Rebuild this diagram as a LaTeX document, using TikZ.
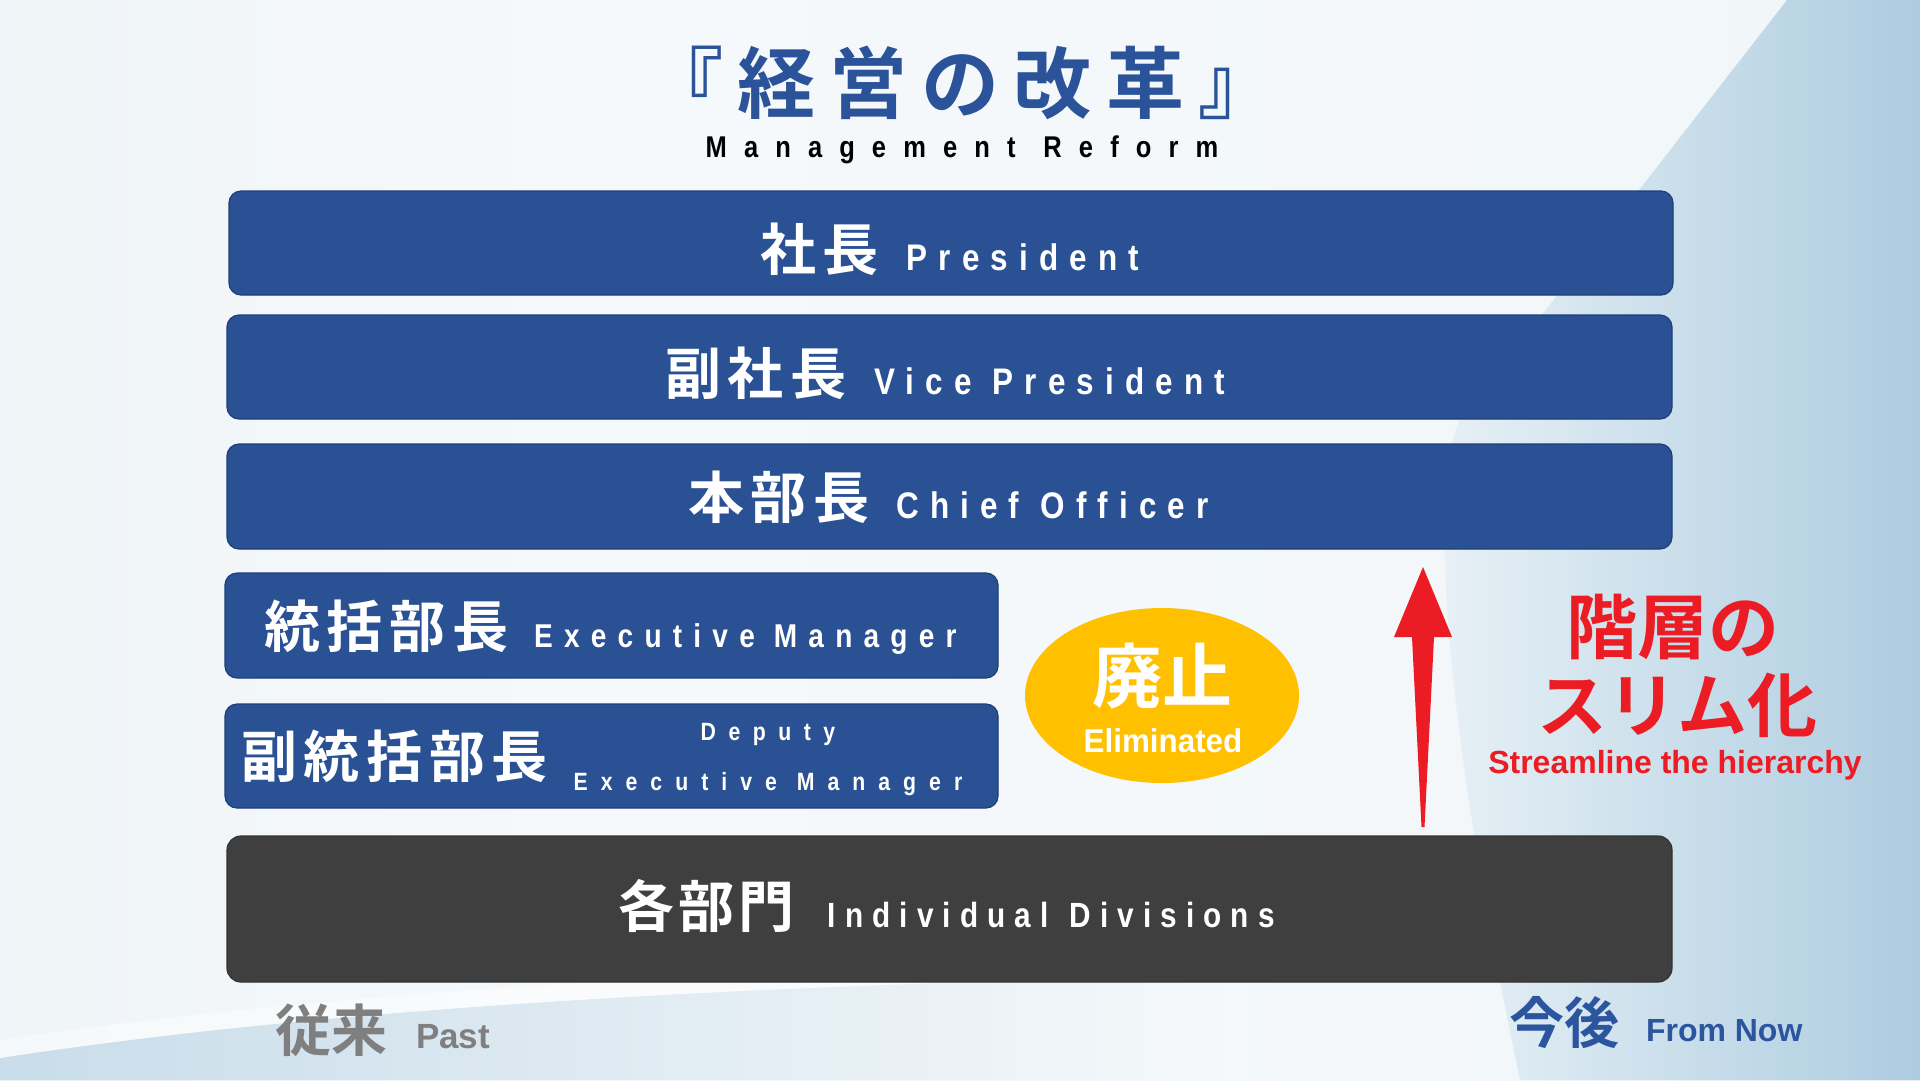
\documentclass[tikz,border=0pt]{standalone}
\usepackage{fontspec}
\setmainfont{Liberation Sans}
\newfontfamily\enf{Liberation Sans Bold}
\newfontfamily\jpf{Noto Sans CJK JP Bold}
\usetikzlibrary{shapes.geometric}
\definecolor{boxblue}{HTML}{2A5194}
\definecolor{boxedge}{HTML}{1E3E78}
\definecolor{divgray}{HTML}{3F3F3F}
\definecolor{titleblue}{HTML}{2B539A}
\definecolor{elimyellow}{HTML}{FFC000}
\definecolor{slimred}{HTML}{EC1C24}
\definecolor{pastgray}{HTML}{7F7F7F}
\definecolor{nowblue}{HTML}{2C55A0}
\definecolor{bgA}{HTML}{E4EDF3}
\definecolor{bgB}{HTML}{F6F9FB}
\definecolor{bgC}{HTML}{EDF4F8}
\definecolor{bgE}{HTML}{E8F1F6}
\definecolor{bgD}{HTML}{ADCCE0}
\pgfdeclarehorizontalshading{bgsh}{100bp}{color(0bp)=(bgA); color(40bp)=(bgB); color(100bp)=(bgC)}
% size, letterspace, stretch, text
\newcommand\EN[4]{{\fontsize{#1pt}{#1pt}\selectfont\enf\addfontfeature{LetterSpace=#2,FakeStretch=#3}#4}}
\newcommand\JPt[3]{{\fontsize{#1pt}{#1pt}\selectfont\jpf\addfontfeature{LetterSpace=#2}#3}}
\tikzset{
  bluebox/.style={rectangle, rounded corners=12pt, fill=boxblue, draw=boxedge, line width=1.2pt, inner sep=0pt},
  graybox/.style={rectangle, rounded corners=14pt, fill=divgray, draw=divgray!80!black, line width=1.2pt, inner sep=0pt},
  tl/.style={inner sep=0pt, outer sep=0pt, anchor=base west},
  tc/.style={inner sep=0pt, outer sep=0pt, anchor=base},
}
\begin{document}
\begin{tikzpicture}[x=1pt, y=-1pt]
\useasboundingbox (0,0) rectangle (1920,1080);
% background
\shade[shading=bgsh] (0,0) rectangle (1920,1080);
\shade[left color=bgE, right color=bgD] (1787,0) -- (1460,420) .. controls (1430,480) and (1440,700) .. (1520,1080) -- (1920,1080) -- (1920,0) -- cycle;
\shade[left color=bgD!50!bgA, right color=bgB] (0,1080) -- (0,1058) .. controls (300,1012) and (700,985) .. (1250,975) -- (1250,1080) -- cycle;
\fill[white, opacity=0.45] (0,1040) .. controls (300,995) and (700,968) .. (1250,962) -- (1250,975) .. controls (700,985) and (300,1012) .. (0,1058) -- cycle;

% title
\node[tc, text=titleblue] (title) at (961,112) {\JPt{78}{18}{『経営の改革』}};
\node[tc, text=black] (sub) at (962,157) {\EN{30}{57}{0.85}{Management}\hspace{28pt}\EN{30}{57}{0.85}{Reform}};

% boxes
\node[bluebox, minimum width=1444pt, minimum height=104pt] (pres) at (951,243) {};
\node[bluebox, minimum width=1445pt, minimum height=104pt] (vice) at (949.5,367) {};
\node[bluebox, minimum width=1445pt, minimum height=105pt] (chief) at (949.5,496.5) {};
\node[bluebox, minimum width=773pt, minimum height=105pt] (exec) at (611.5,625.5) {};
\node[bluebox, minimum width=773pt, minimum height=104pt] (dep) at (611.5,756) {};
\node[graybox, minimum width=1445pt, minimum height=146pt] (div) at (949.5,909) {};

% box texts
\node[tl, text=white] (presT) at (760,270) {\JPt{56}{12}{社長}\hspace{28pt}\EN{37}{30}{0.85}{President}};
\node[tl, text=white] (viceT) at (665,394) {\JPt{56}{12}{副社長}\hspace{28pt}\EN{37}{30}{0.85}{Vice}\hspace{21pt}\EN{37}{30}{0.85}{President}};
\node[tl, text=white] (chiefT) at (688,518) {\JPt{56}{12}{本部長}\hspace{27pt}\EN{37}{30}{0.85}{Chief}\hspace{21pt}\EN{37}{30}{0.85}{Officer}};
\node[tl, text=white] (execT) at (264,647) {\JPt{56}{12}{統括部長}\hspace{26pt}\EN{33}{34}{0.85}{Executive}\hspace{19pt}\EN{33}{34}{0.85}{Manager}};
\node[tl, text=white] (depJ) at (241,777) {\JPt{56}{12}{副統括部長}};
\node[tc, text=white] (depE1) at (768,740) {\EN{25}{50}{0.85}{Deputy}};
\node[tc, text=white] (depE2) at (768,790) {\EN{25}{52}{0.85}{Executive}\hspace{20pt}\EN{25}{52}{0.85}{Manager}};
\node[tl, text=white] (divT) at (618,927) {\JPt{56}{8}{各部門}\hspace{33pt}\EN{35}{26}{0.85}{Individual}\hspace{21pt}\EN{35}{26}{0.85}{Divisions}};

% eliminated
\node[ellipse, fill=elimyellow, minimum width=274pt, minimum height=175pt, inner sep=0pt] (elim) at (1162,695.5) {};
\node[tc, text=white] (haishi) at (1162,702) {\JPt{70}{0}{廃止}};
\node[tc, text=white] (elimT) at (1163,752) {\EN{33}{0}{0.95}{Eliminated}};

% arrow
\coordinate (atip) at (1423,567);
\coordinate (abot) at (1423,827);
\fill[slimred] (atip) -- (1452,637) -- (1434,637) -- ([xshift=1.5pt]abot) -- ([xshift=-1.5pt]abot) -- (1412,637) -- (1394,637) -- cycle;

% red text
\node[tc, text=slimred] (kaiso) at (1673,653) {\JPt{71}{0}{階層の}};
\node[tc, text=slimred] (slim) at (1677,731) {\JPt{70}{0}{スリム化}};
\node[tc, text=slimred] (stream) at (1675,773) {\EN{32}{0}{1}{Streamline the hierarchy}};

% bottom labels
\node[tl, text=pastgray] (juurai) at (275,1051) {\JPt{56}{0}{従来}};
\node[tl, text=pastgray] (past) at (416,1048) {\EN{35}{0}{1}{Past}};
\node[tl, text=nowblue] (kongo) at (1509,1043) {\JPt{55}{0}{今後}};
\node[tl, text=nowblue] (fromnow) at (1646,1041) {\EN{32}{0}{1}{From Now}};
\end{tikzpicture}
\end{document}
